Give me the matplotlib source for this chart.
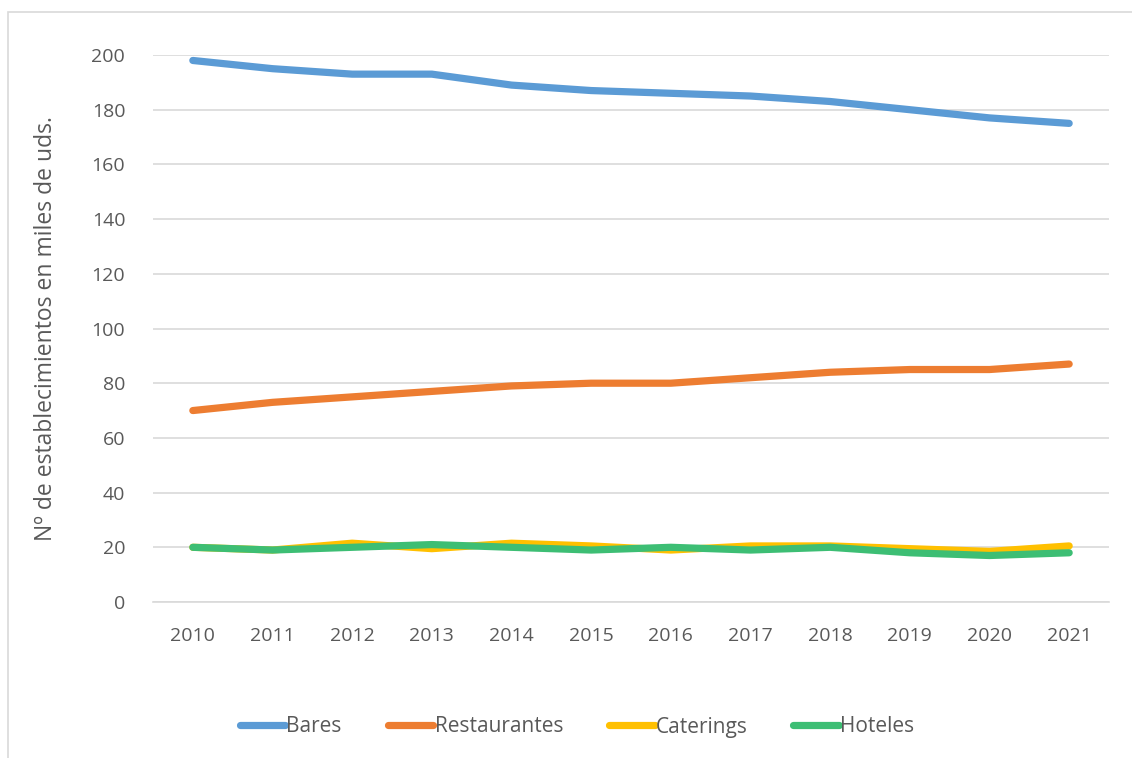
import matplotlib.pyplot as plt
from matplotlib.patches import Rectangle

years = [2010, 2011, 2012, 2013, 2014, 2015, 2016, 2017, 2018, 2019, 2020, 2021]
bares = [198, 195, 193, 193, 189, 187, 186, 185, 183, 180, 177, 175]
restaurantes = [70, 73, 75, 77, 79, 80, 80, 82, 84, 85, 85, 87]
caterings = [20, 19, 21.5, 19.5, 21.5, 20.5, 19, 20.5, 20.5, 19.5, 18.5, 20.5]
hoteles = [20, 19, 20, 21, 20, 19, 20, 19, 20, 18, 17, 18]

series = [
    ("Bares", bares, "#5B9BD5"),
    ("Restaurantes", restaurantes, "#ED7D31"),
    ("Caterings", caterings, "#FFC000"),
    ("Hoteles", hoteles, "#3DBE74"),
]

plt.rcParams['font.family'] = ['Open Sans', 'DejaVu Sans']

fig = plt.figure(figsize=(11.32, 7.58), dpi=100)
ax = fig.add_axes([153 / 1132, 1 - 602 / 758, (1109 - 153) / 1132, (602 - 55) / 758])

x = list(range(len(years)))
for name, vals, color in series:
    ax.plot(x, vals, color=color, lw=5.2, solid_capstyle='round',
            solid_joinstyle='round', label=name)

ax.set_xlim(-0.5, len(years) - 0.5)
ax.set_ylim(0, 200)
ax.set_yticks(range(0, 201, 20))
ax.set_xticks(x)
ax.set_xticklabels([str(y) for y in years])
ax.grid(axis='y', color='#D9D9D9', lw=1.2)
ax.set_axisbelow(True)
for s in ['top', 'right', 'left']:
    ax.spines[s].set_visible(False)
ax.spines['bottom'].set_color('#D9D9D9')
ax.spines['bottom'].set_linewidth(1.2)
ax.tick_params(length=0, labelsize=14, labelcolor='#595959')
ax.tick_params(axis='y', pad=20)
ax.tick_params(axis='x', pad=18)

ax.set_ylabel('Nº de establecimientos en miles de uds.', fontsize=16.5,
              color='#595959', labelpad=24)

fig.legend(loc='center', bbox_to_anchor=(577 / 1132, 1 - 727 / 758), ncol=4,
           frameon=False, fontsize=15, labelcolor='#595959',
           handlelength=2.2, handletextpad=0.05, columnspacing=2.2)

fig.patches.append(Rectangle((8 / 1132, -0.01), 1.1, 1 - 12 / 758 + 0.01,
                             transform=fig.transFigure, fill=False,
                             edgecolor='#D9D9D9', lw=1.2))

fig.savefig('out.png', dpi=100)
